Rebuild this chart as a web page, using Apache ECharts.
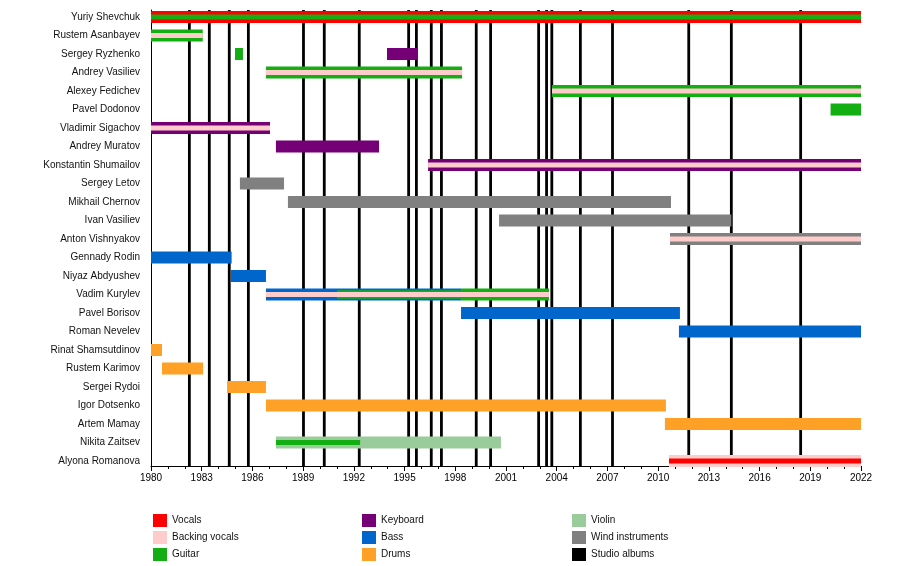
<!DOCTYPE html>
<html>
<head>
<meta charset="utf-8">
<script src="https://cdn.jsdelivr.net/npm/echarts@6/dist/echarts.min.js"></script>
<style>
html,body{margin:0;padding:0;background:#fff;}
#chart{width:900px;height:566px;}
</style>
</head>
<body>
<div id="chart"></div>
<script>
// ---- data ----
const members = ['Yuriy Shevchuk','Rustem Asanbayev','Sergey Ryzhenko','Andrey Vasiliev','Alexey Fedichev','Pavel Dodonov','Vladimir Sigachov','Andrey Muratov','Konstantin Shumailov','Sergey Letov','Mikhail Chernov','Ivan Vasiliev','Anton Vishnyakov','Gennady Rodin','Niyaz Abdyushev','Vadim Kurylev','Pavel Borisov','Roman Nevelev','Rinat Shamsutdinov','Rustem Karimov','Sergei Rydoi','Igor Dotsenko','Artem Mamay','Nikita Zaitsev','Alyona Romanova'];

const studioAlbums = [1982.27,1983.45,1984.63,1985.76,1989.02,1990.25,1992.32,1995.24,1995.70,1996.58,1997.18,1999.24,2000.09,2002.93,2003.40,2003.71,2005.40,2007.30,2011.81,2014.33,2018.43];

// [member, from, to, layer]
const vocals = [
  ['Yuriy Shevchuk',1980,2022,'main'],
  ['Alyona Romanova',2010.64,2022,'inner']
];
const backingVocals = [
  ['Rustem Asanbayev',1980,1983.06,'inner'],
  ['Andrey Vasiliev',1986.80,1998.40,'inner'],
  ['Alexey Fedichev',2003.72,2022,'inner'],
  ['Vladimir Sigachov',1980,1987.04,'inner'],
  ['Konstantin Shumailov',1996.39,2022,'inner'],
  ['Anton Vishnyakov',2010.70,2022,'inner'],
  ['Vadim Kurylev',1986.80,2003.54,'inner'],
  ['Alyona Romanova',2010.64,2022,'main']
];
const guitar = [
  ['Yuriy Shevchuk',1980,2022,'inner'],
  ['Rustem Asanbayev',1980,1983.06,'main'],
  ['Sergey Ryzhenko',1984.97,1985.44,'main'],
  ['Andrey Vasiliev',1986.80,1998.40,'main'],
  ['Alexey Fedichev',2003.72,2022,'main'],
  ['Pavel Dodonov',2020.20,2022,'main'],
  ['Vadim Kurylev',1991.00,1998.38,'mid'],
  ['Vadim Kurylev',1998.38,2003.54,'main'],
  ['Nikita Zaitsev',1987.39,1992.37,'inner']
];
const keyboard = [
  ['Sergey Ryzhenko',1993.96,1995.75,'main'],
  ['Vladimir Sigachov',1980,1987.04,'main'],
  ['Andrey Muratov',1987.39,1993.49,'main'],
  ['Konstantin Shumailov',1996.39,2022,'main']
];
const bass = [
  ['Gennady Rodin',1980,1984.77,'main'],
  ['Niyaz Abdyushev',1984.73,1986.80,'main'],
  ['Vadim Kurylev',1986.80,1998.38,'main'],
  ['Pavel Borisov',1998.34,2011.29,'main'],
  ['Roman Nevelev',2011.23,2022,'main']
];
const drums = [
  ['Rinat Shamsutdinov',1980,1980.65,'main'],
  ['Rustem Karimov',1980.65,1983.08,'main'],
  ['Sergei Rydoi',1984.50,1986.80,'main'],
  ['Igor Dotsenko',1986.80,2010.46,'main'],
  ['Artem Mamay',2010.40,2022,'main']
];
const violin = [
  ['Nikita Zaitsev',1987.39,2000.70,'main']
];
const windInstruments = [
  ['Sergey Letov',1985.26,1987.87,'main'],
  ['Mikhail Chernov',1988.10,2010.76,'main'],
  ['Ivan Vasiliev',2000.59,2014.33,'main'],
  ['Anton Vishnyakov',2010.70,2022,'main']
];

const yearMin = 1980, yearMax = 2022, yearStep = 3;

// ---- styling ----
const layerSize = {main: 0.65, mid: 0.46, inner: 0.26};
const layerZ = {main: 10, mid: 20, inner: 30};

const roles = [
  {name: 'Vocals', color: '#ff0000', data: vocals},
  {name: 'Backing vocals', color: '#ffcccc', data: backingVocals},
  {name: 'Guitar', color: '#12ae12', data: guitar},
  {name: 'Keyboard', color: '#750075', data: keyboard},
  {name: 'Bass', color: '#0066cc', data: bass},
  {name: 'Drums', color: '#ffa126', data: drums},
  {name: 'Violin', color: '#9acb9a', data: violin},
  {name: 'Wind instruments', color: '#808080', data: windInstruments}
];

function barSeries(role) {
  return {
    type: 'custom',
    name: role.name,
    itemStyle: {color: role.color},
    encode: {x: [1, 2], y: 0},
    data: role.data.map(d => [members.indexOf(d[0]), d[1], d[2]]),
    renderItem: function (params, api) {
      const row = api.value(0);
      const s = api.coord([api.value(1), row]);
      const e = api.coord([api.value(2), row]);
      const pitch = api.size([0, 1])[1];
      const layer = role.data[params.dataIndex][3];
      const h = pitch * layerSize[layer];
      return {
        type: 'rect',
        z2: layerZ[layer],
        shape: {x: s[0], y: s[1] - h / 2, width: e[0] - s[0], height: h},
        style: {fill: role.color}
      };
    },
    z: 2,
    silent: true
  };
}

const albumSeries = {
  type: 'custom',
  name: 'Studio albums',
  itemStyle: {color: '#000'},
  encode: {x: 0, y: 1},
  data: studioAlbums.map(y => [y, 0]),
  renderItem: function (params, api) {
    const p = api.coord([api.value(0), 0]);
    const cs = params.coordSys;
    return {
      type: 'line',
      z2: 1,
      shape: {x1: p[0], y1: cs.y, x2: p[0], y2: cs.y + cs.height},
      style: {stroke: '#000', lineWidth: 2.8}
    };
  },
  z: 2,
  silent: true
};

const legendBase = {
  orient: 'vertical',
  icon: 'rect',
  itemWidth: 14,
  itemHeight: 13,
  itemGap: 4,
  selectedMode: false,
  textStyle: {fontSize: 10, color: '#111', fontFamily: 'Liberation Sans, Arial, sans-serif'}
};

const chart = echarts.init(document.getElementById('chart'), null, {renderer: 'canvas'});
chart.setOption({
  animation: false,
  backgroundColor: '#fff',
  textStyle: {fontFamily: 'Liberation Sans, Arial, sans-serif'},
  grid: {left: 151, right: 39, top: 10, bottom: 100, containLabel: false},
  xAxis: {
    type: 'value',
    min: yearMin,
    max: yearMax,
    interval: yearStep,
    axisLine: {show: true, onZero: false, lineStyle: {color: '#000', width: 1}},
    axisTick: {show: true, length: 5, lineStyle: {color: '#000'}},
    minorTick: {show: true, splitNumber: 3, length: 3, lineStyle: {color: '#000'}},
    splitLine: {show: false},
    axisLabel: {fontSize: 10, color: '#000', margin: 7, formatter: v => String(v)}
  },
  yAxis: {
    type: 'value',
    inverse: true,
    min: -0.38,
    max: 24.27,
    axisLine: {show: true, onZero: false, lineStyle: {color: '#000', width: 1}},
    axisTick: {show: false},
    splitLine: {show: false},
    axisLabel: {
      fontSize: 10, color: '#111', margin: 11,
      customValues: members.map((m, i) => i),
      formatter: v => members[Math.round(v)] || ''
    }
  },
  legend: [
    Object.assign({left: 148, top: 509, data: ['Vocals', 'Backing vocals', 'Guitar']}, legendBase),
    Object.assign({left: 357, top: 509, data: ['Keyboard', 'Bass', 'Drums']}, legendBase),
    Object.assign({left: 567, top: 509, data: ['Violin', 'Wind instruments', 'Studio albums']}, legendBase)
  ],
  series: roles.map(barSeries).concat([albumSeries])
});
</script>
</body>
</html>
